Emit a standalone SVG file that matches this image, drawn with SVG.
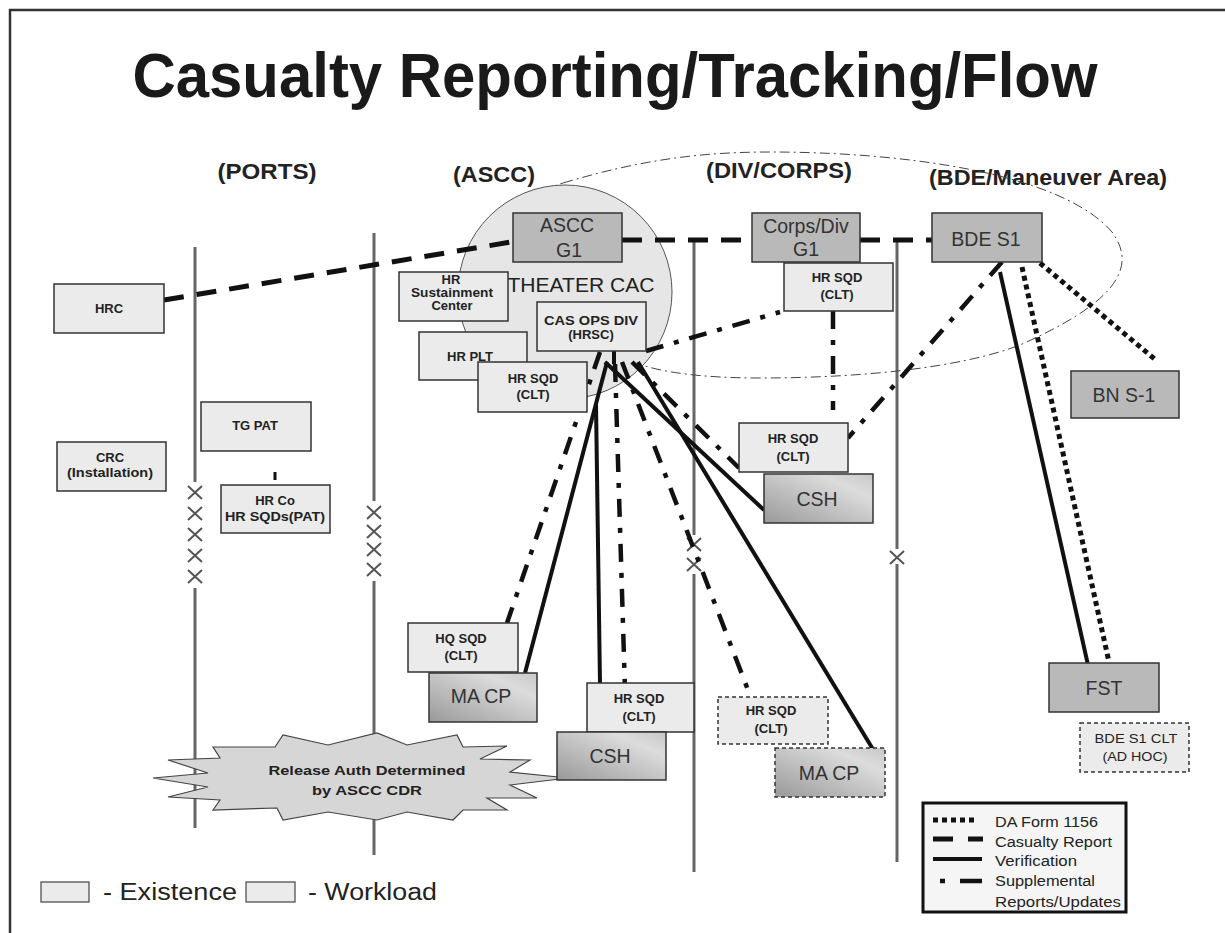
<svg xmlns="http://www.w3.org/2000/svg" width="1225" height="933" viewBox="0 0 1225 933">
<defs>
<linearGradient id="wg" x1="0" y1="1" x2="1" y2="0">
<stop offset="0" stop-color="#999"/>
<stop offset="0.75" stop-color="#dcdcdc"/>
<stop offset="1" stop-color="#c8c8c8"/>
</linearGradient>
<style>
.ex{fill:#ebebeb;stroke:#333;stroke-width:1.5}
.wl{fill:#b9b9b9;stroke:#333;stroke-width:1.5}
.wg{fill:url(#wg);stroke:#333;stroke-width:1.5}
.dsh{stroke-dasharray:4 3}
.tb{font-family:"Liberation Sans",Arial,sans-serif;font-weight:bold;font-size:13px;fill:#222;text-anchor:middle}
.tw{font-family:"Liberation Sans",Arial,sans-serif;font-size:19.5px;fill:#333;text-anchor:middle}
.th{font-family:"Liberation Sans",Arial,sans-serif;font-weight:bold;font-size:22px;fill:#222;text-anchor:middle}
.lg{font-family:"Liberation Sans",Arial,sans-serif;font-size:14px;fill:#222}
.vl{stroke:#666;stroke-width:3;fill:none}
.xm{stroke:#555;stroke-width:2;fill:none}
.cr{stroke:#111;stroke-width:5;stroke-dasharray:20 13;fill:none}
.ver{stroke:#111;stroke-width:4;fill:none}
.dot{stroke:#111;stroke-width:5;stroke-dasharray:5 4;fill:none}
.sup{stroke:#111;stroke-width:4.5;stroke-dasharray:18 11 5 11;fill:none}
</style>
</defs>
<rect width="1225" height="933" fill="#fff"/>
<path d="M10,933 V10 H1225" stroke="#333" stroke-width="2.5" fill="none"/>
<text x="615" y="97" font-family="Liberation Sans,Arial,sans-serif" font-weight="bold" font-size="63" fill="#1a1a1a" text-anchor="middle" textLength="965" lengthAdjust="spacingAndGlyphs">Casualty Reporting/Tracking/Flow</text>
<g id="headers">
<text class="th" x="267" y="179" textLength="99" lengthAdjust="spacingAndGlyphs">(PORTS)</text>
<text class="th" x="494" y="182" textLength="82" lengthAdjust="spacingAndGlyphs">(ASCC)</text>
<text class="th" x="779" y="178" textLength="146" lengthAdjust="spacingAndGlyphs">(DIV/CORPS)</text>
<text class="th" x="1048" y="185" textLength="238" lengthAdjust="spacingAndGlyphs">(BDE/Maneuver Area)</text>
</g>
<g id="lanes">
<path class="vl" d="M195,247 V482 M195,588 V828"/>
<path class="xm" d="M188,486 l14,13 m0,-13 l-14,13 M188,507 l14,13 m0,-13 l-14,13 M188,528 l14,13 m0,-13 l-14,13 M188,549 l14,13 m0,-13 l-14,13 M188,570 l14,13 m0,-13 l-14,13"/>
<path class="vl" d="M374,233 V501 M374,581 V855"/>
<path class="xm" d="M367,506 l14,13 m0,-13 l-14,13 M367,525 l14,13 m0,-13 l-14,13 M367,543 l14,13 m0,-13 l-14,13 M367,563 l14,13 m0,-13 l-14,13"/>
<path class="vl" d="M694,240 V535 M694,574 V872"/>
<path class="xm" d="M687,538 l14,13 m0,-13 l-14,13 M687,558 l14,13 m0,-13 l-14,13"/>
<path class="vl" d="M897,242 V549 M897,564 V862"/>
<path class="xm" d="M890,551 l14,13 m0,-13 l-14,13"/>
</g>
<g id="area-ellipse">
<path d="M563,183 C640,160 700,152 770,152 C900,152 1060,172 1112,232 C1140,270 1110,305 1020,345 C960,368 860,378 760,378 C700,378 665,372 645,366 C560,345 490,310 495,265 C500,225 525,195 563,183 Z" fill="none" stroke="#444" stroke-width="1" stroke-dasharray="10 4 2 4"/>
</g>
<g id="theater-cac">
<circle cx="565" cy="292" r="107" fill="#e6e6e6" stroke="#555" stroke-width="1"/>
<text x="581" y="292" font-family="Liberation Sans,Arial,sans-serif" font-size="19.5" fill="#222" text-anchor="middle" textLength="147" lengthAdjust="spacingAndGlyphs">THEATER CAC</text>
</g>
<g id="release-auth">
<polygon points="153,778 208,773 168,760 220,758 213,747 275,747 283,735 328,745 377,733 407,745 457,735 463,747 507,746 480,759 530,760 510,772 568,778 510,785 537,798 487,798 507,810 463,810 453,820 407,812 377,820 328,812 283,820 277,808 213,810 220,800 168,797 208,787" fill="#d6d6d6" stroke="#444" stroke-width="1.2"/>
<text class="tb" x="367" y="775" font-size="16" textLength="197" lengthAdjust="spacingAndGlyphs">Release Auth Determined</text>
<text class="tb" x="367" y="795" font-size="16" textLength="110" lengthAdjust="spacingAndGlyphs">by ASCC CDR</text>
</g>
<g id="connectors">
<line class="cr" x1="164" y1="300" x2="517" y2="241"/>
<line class="cr" x1="622" y1="240" x2="752" y2="240"/>
<line class="cr" x1="860" y1="240" x2="932" y2="240"/>
<line class="ver" x1="607" y1="362" x2="525" y2="673"/>
<line class="ver" x1="596" y1="404" x2="600" y2="684"/>
<line class="ver" x1="605" y1="362" x2="764" y2="510"/>
<line class="ver" x1="638" y1="362" x2="874" y2="751"/>
<line class="ver" x1="614" y1="351" x2="614" y2="364"/>
<line class="ver" x1="1000" y1="272" x2="1088" y2="665"/>
<line class="dot" x1="1022" y1="267" x2="1109" y2="662"/>
<line class="dot" x1="1040" y1="263" x2="1157" y2="361"/>
<line class="sup" x1="646" y1="351" x2="780" y2="312"/>
<line class="sup" x1="833" y1="311" x2="833" y2="410"/>
<line class="sup" x1="1002" y1="262" x2="848" y2="438"/>
<line class="sup" x1="600" y1="352" x2="507" y2="623"/>
<line class="sup" x1="615" y1="364" x2="625" y2="690"/>
<line class="sup" x1="622" y1="362" x2="748" y2="690"/>
<line class="sup" x1="632" y1="362" x2="739" y2="468"/>
<line x1="275" y1="472" x2="275" y2="480" stroke="#111" stroke-width="3"/>
</g>
<g id="hrc"><rect class="ex" x="54" y="284" width="110" height="49"/><text class="tb" x="109" y="313" font-size="14.5">HRC</text></g>
<g id="crc"><rect class="ex" x="57" y="442" width="109" height="49"/><text class="tb" x="110" y="462" font-size="14">CRC</text><text class="tb" x="110" y="477" font-size="14" textLength="86" lengthAdjust="spacingAndGlyphs">(Installation)</text></g>
<g id="tg-pat"><rect class="ex" x="201" y="402" width="110" height="49"/><text class="tb" x="255" y="430" font-size="13.5">TG PAT</text></g>
<g id="hr-co"><rect class="ex" x="221" y="485" width="109" height="48"/><text class="tb" x="275" y="505" font-size="14">HR Co</text><text class="tb" x="275" y="521" font-size="14" textLength="100" lengthAdjust="spacingAndGlyphs">HR SQDs(PAT)</text></g>
<g id="hr-sust"><rect class="ex" x="399" y="272" width="109" height="49"/><text class="tb" x="451" y="284" font-size="11">HR</text><text class="tb" x="452" y="297" font-size="11" textLength="82" lengthAdjust="spacingAndGlyphs">Sustainment</text><text class="tb" x="452" y="310" font-size="11">Center</text></g>
<g id="hr-plt"><rect class="ex" x="419" y="332" width="108" height="48"/><text class="tb" x="470" y="361" font-size="13">HR PLT</text></g>
<g id="hr-sqd-ascc"><rect class="ex" x="478" y="362" width="109" height="50"/><text class="tb" x="533" y="383" font-size="14">HR SQD</text><text class="tb" x="533" y="399" font-size="14">(CLT)</text></g>
<g id="ascc-g1"><rect class="wl" x="513" y="213" width="109" height="49"/><text class="tw" x="567" y="232">ASCC</text><text class="tw" x="569" y="257">G1</text></g>
<g id="cas-ops"><rect class="ex" x="537" y="302" width="109" height="49"/><text class="tb" x="591" y="325" font-size="12.5" textLength="94" lengthAdjust="spacingAndGlyphs">CAS OPS DIV</text><text class="tb" x="591" y="339" font-size="12.5">(HRSC)</text></g>
<g id="corps-g1"><rect class="wl" x="752" y="213" width="108" height="49"/><text class="tw" x="806" y="233">Corps/Div</text><text class="tw" x="806" y="256">G1</text></g>
<g id="hr-sqd-div"><rect class="ex" x="784" y="263" width="109" height="48"/><text class="tb" x="837" y="282">HR SQD</text><text class="tb" x="837" y="299">(CLT)</text></g>
<g id="bde-s1"><rect class="wl" x="932" y="213" width="110" height="49"/><text class="tw" x="986" y="246">BDE S1</text></g>
<g id="bn-s1"><rect class="wl" x="1071" y="371" width="108" height="47"/><text class="tw" x="1124" y="402">BN S-1</text></g>
<g id="hr-sqd-mid"><rect class="ex" x="739" y="423" width="109" height="49"/><text class="tb" x="793" y="443">HR SQD</text><text class="tb" x="793" y="461">(CLT)</text></g>
<g id="csh-mid"><rect class="wg" x="764" y="474" width="109" height="49"/><text class="tw" x="817" y="506">CSH</text></g>
<g id="hq-sqd"><rect class="ex" x="408" y="623" width="110" height="49"/><text class="tb" x="461" y="643">HQ SQD</text><text class="tb" x="461" y="660">(CLT)</text></g>
<g id="ma-cp-1"><rect class="wg" x="429" y="673" width="108" height="49"/><text class="tw" x="481" y="703">MA CP</text></g>
<g id="hr-sqd-low"><rect class="ex" x="587" y="683" width="107" height="49"/><text class="tb" x="639" y="703">HR SQD</text><text class="tb" x="639" y="721">(CLT)</text></g>
<g id="csh-low"><rect class="wg" x="557" y="732" width="109" height="48"/><text class="tw" x="610" y="763">CSH</text></g>
<g id="hr-sqd-dash"><rect class="ex dsh" x="718" y="697" width="110" height="47"/><text class="tb" x="771" y="715">HR SQD</text><text class="tb" x="771" y="733">(CLT)</text></g>
<g id="ma-cp-2"><rect class="wg dsh" x="775" y="748" width="110" height="49"/><text class="tw" x="829" y="780">MA CP</text></g>
<g id="fst"><rect class="wl" x="1049" y="663" width="110" height="49"/><text class="tw" x="1104" y="695">FST</text></g>
<g id="bde-clt"><rect class="ex dsh" x="1080" y="723" width="109" height="49"/><text x="1136" y="743" font-family="Liberation Sans,Arial,sans-serif" font-size="12.5" fill="#222" text-anchor="middle" textLength="83" lengthAdjust="spacingAndGlyphs">BDE S1 CLT</text><text x="1135" y="761" font-family="Liberation Sans,Arial,sans-serif" font-size="12.5" fill="#222" text-anchor="middle" textLength="65" lengthAdjust="spacingAndGlyphs">(AD HOC)</text></g>
<g id="legend-lines">
<rect x="923" y="803" width="203" height="109" fill="#f5f5f5" stroke="#111" stroke-width="3"/>
<line class="dot" x1="933" y1="820" x2="978" y2="820"/>
<line stroke="#111" stroke-width="5" stroke-dasharray="20 15" x1="933" y1="839" x2="983" y2="839"/>
<line stroke="#111" stroke-width="4" x1="933" y1="859" x2="982" y2="859"/>
<line stroke="#111" stroke-width="4.5" x1="940" y1="881" x2="945" y2="881"/>
<line stroke="#111" stroke-width="4.5" x1="960" y1="881" x2="982" y2="881"/>
<text class="lg" x="995" y="827" textLength="103" lengthAdjust="spacingAndGlyphs">DA Form 1156</text>
<text class="lg" x="995" y="847" textLength="117" lengthAdjust="spacingAndGlyphs">Casualty Report</text>
<text class="lg" x="995" y="866" textLength="82" lengthAdjust="spacingAndGlyphs">Verification</text>
<text class="lg" x="995" y="886" textLength="100" lengthAdjust="spacingAndGlyphs">Supplemental</text>
<text class="lg" x="995" y="907" textLength="126" lengthAdjust="spacingAndGlyphs">Reports/Updates</text>
</g>
<g id="legend-boxes">
<rect x="41" y="882" width="48" height="20" fill="#ebebeb" stroke="#444" stroke-width="1.2"/>
<text x="103" y="900" font-family="Liberation Sans,Arial,sans-serif" font-size="23" fill="#222" textLength="134" lengthAdjust="spacingAndGlyphs">- Existence</text>
<rect x="246" y="882" width="49" height="20" fill="#ebebeb" stroke="#444" stroke-width="1.2"/>
<text x="308" y="900" font-family="Liberation Sans,Arial,sans-serif" font-size="23" fill="#222" textLength="129" lengthAdjust="spacingAndGlyphs">- Workload</text>
</g>
</svg>
